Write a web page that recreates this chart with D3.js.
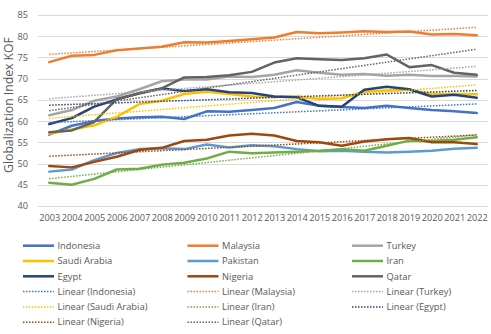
<!DOCTYPE html>
<html><head><meta charset="utf-8">
<script src="https://cdn.jsdelivr.net/npm/d3@7"></script>
<style>html,body{margin:0;padding:0;background:#fff;}svg{display:block;}</style>
</head><body>
<svg id="c" width="491" height="334"></svg>
<script>
const years = ["2003","2004","2005","2006","2007","2008","2009","2010","2011","2012","2013","2014","2015","2016","2017","2018","2019","2020","2021","2022"];
const yTicks = [40,45,50,55,60,65,70,75,80,85];
const indonesia   = [56.8,58.9,60.0,60.6,60.9,61.0,60.5,62.3,62.2,62.6,63.1,64.5,63.6,63.3,63.1,63.6,63.1,62.6,62.3,61.9];
const malaysia    = [73.9,75.4,75.6,76.7,77.1,77.5,78.6,78.5,78.9,79.3,79.7,81.0,80.7,80.9,81.2,81.0,81.1,80.4,80.5,80.2];
const turkey      = [61.4,62.6,64.8,65.8,67.5,69.4,69.8,69.8,70.5,70.4,70.9,72.0,71.4,70.9,71.1,70.7,70.9,70.6,70.6,70.5];
const saudiArabia = [57.0,58.0,59.0,61.0,64.0,64.8,66.4,66.9,66.4,65.8,65.7,65.8,65.2,65.4,66.9,67.2,67.4,66.4,66.4,66.3];
const pakistan    = [48.1,48.6,50.8,52.5,53.4,53.6,53.4,54.5,53.8,54.3,54.1,53.4,52.9,53.0,52.8,52.6,52.8,53.0,53.5,53.7];
const iran        = [45.5,45.0,46.4,48.6,48.8,49.7,50.2,51.2,52.8,52.4,52.6,52.8,53.0,53.4,53.0,54.2,55.4,55.3,55.6,56.2];
const egypt       = [59.3,60.7,63.4,65.1,66.6,67.7,67.1,67.5,66.8,66.6,65.8,65.6,63.6,63.4,67.4,68.1,67.5,65.8,66.2,65.5];
const nigeria     = [49.4,49.1,50.4,51.6,53.2,53.7,55.3,55.6,56.6,57.0,56.6,55.3,55.0,54.2,55.2,55.7,56.0,55.0,55.0,54.6];
const qatar       = [57.4,57.8,59.8,65.2,66.5,67.7,70.3,70.4,70.8,71.6,73.8,74.8,74.6,74.4,74.8,75.7,72.7,73.2,71.4,70.9];

const seriesNames = ["Indonesia","Malaysia","Turkey","Saudi Arabia","Pakistan","Iran","Egypt","Nigeria","Qatar"];
const seriesValues = [indonesia,malaysia,turkey,saudiArabia,pakistan,iran,egypt,nigeria,qatar];
const seriesColors = ["#4472C4","#ED7D31","#A5A5A5","#FFC000","#5B9BD5","#70AD47","#264478","#9E480E","#636363"];
const trendNames = ["Indonesia","Malaysia","Turkey","Saudi Arabia","Iran","Egypt","Nigeria","Qatar"];
const yTitle = "Globalization Index KOF";

const svg = d3.select("#c");
const FONT = "'Open Sans', 'Liberation Sans', sans-serif";
const TXT = "#595959";

function fitSize(str, target){
  const t = svg.append("text").attr("font-family",FONT).attr("font-size",10).text(str);
  const w = t.node().getComputedTextLength();
  t.remove();
  return 10*target/w;
}

const x = d3.scalePoint().domain(years).range([38,488]).padding(0.5);
const y = d3.scaleLinear().domain([40,85]).range([206,15]);

// gridlines
svg.append("g").selectAll("line").data(yTicks).join("line")
  .attr("x1",38).attr("x2",488)
  .attr("y1",d=>Math.round(y(d))+0.5).attr("y2",d=>Math.round(y(d))+0.5)
  .attr("stroke","#D9D9D9").attr("stroke-width",1);

// y axis labels
const yFs = fitSize("2003",21);
const ya = svg.append("g").attr("transform","translate(28,0)")
  .call(d3.axisLeft(y).tickValues(yTicks).tickSize(0).tickPadding(0));
ya.select(".domain").remove();
ya.selectAll("text").attr("font-family",FONT).attr("font-size",yFs).attr("fill",TXT);

// x axis labels
const xa = svg.append("g").attr("transform","translate(0,214)")
  .call(d3.axisBottom(x).tickSize(0).tickPadding(0));
xa.select(".domain").remove();
xa.selectAll("text").attr("font-family",FONT).attr("font-size",yFs).attr("fill",TXT);

// y title
svg.append("text").attr("transform","translate(12.5,105) rotate(-90)")
  .attr("text-anchor","middle").attr("font-family",FONT)
  .attr("font-size",fitSize(yTitle,136)).attr("fill",TXT).text(yTitle);

const line = d3.line().x((d,i)=>x(years[i])).y(d=>y(d));

// series lines
seriesValues.forEach((vals,k)=>{
  svg.append("path").datum(vals).attr("d",line).attr("fill","none")
    .attr("stroke",seriesColors[k]).attr("stroke-width",2.5)
    .attr("stroke-linejoin","round").attr("stroke-linecap","round");
});

// linear trendlines (least squares)
function linFit(vals){
  const n=vals.length; const xs=d3.range(n);
  const mx=d3.mean(xs), my=d3.mean(vals);
  let sxy=0,sxx=0; xs.forEach((xi,i)=>{sxy+=(xi-mx)*(vals[i]-my); sxx+=(xi-mx)*(xi-mx);});
  const b=sxy/sxx, a=my-b*mx;
  return xs.map(xi=>a+b*xi);
}
trendNames.forEach(name=>{
  const k = seriesNames.indexOf(name);
  const fit = linFit(seriesValues[k]);
  svg.append("path").datum([fit[0],fit[fit.length-1]])
    .attr("d",d3.line().x((d,i)=>x(years[i===0?0:years.length-1])).y(d=>y(d)))
    .attr("fill","none").attr("stroke",seriesColors[k]).attr("stroke-width",1.5)
    .attr("stroke-dasharray","1.5,1.5");
});

// legend
const legendItems = seriesNames.map((n,k)=>({label:n,color:seriesColors[k],dotted:false}))
  .concat(trendNames.map(n=>({label:"Linear ("+n+")",color:seriesColors[seriesNames.indexOf(n)],dotted:true})));
const colX = [23,187.5,352];
const lFs = fitSize("Linear (Saudi Arabia)",90);
const lg = svg.append("g");
legendItems.forEach((it,i)=>{
  const cx = colX[i%3], cy = 245.7 + Math.floor(i/3)*15.3;
  lg.append("line").attr("x1",cx).attr("x2",cx+31).attr("y1",cy).attr("y2",cy)
    .attr("stroke",it.color).attr("stroke-width",it.dotted?1.5:2.5)
    .attr("stroke-dasharray",it.dotted?"1.5,1.5":null);
  lg.append("text").attr("x",cx+34.5).attr("y",cy).attr("dy","0.35em")
    .attr("font-family",FONT).attr("font-size",lFs).attr("fill",TXT).text(it.label);
});
</script>
</body></html>
